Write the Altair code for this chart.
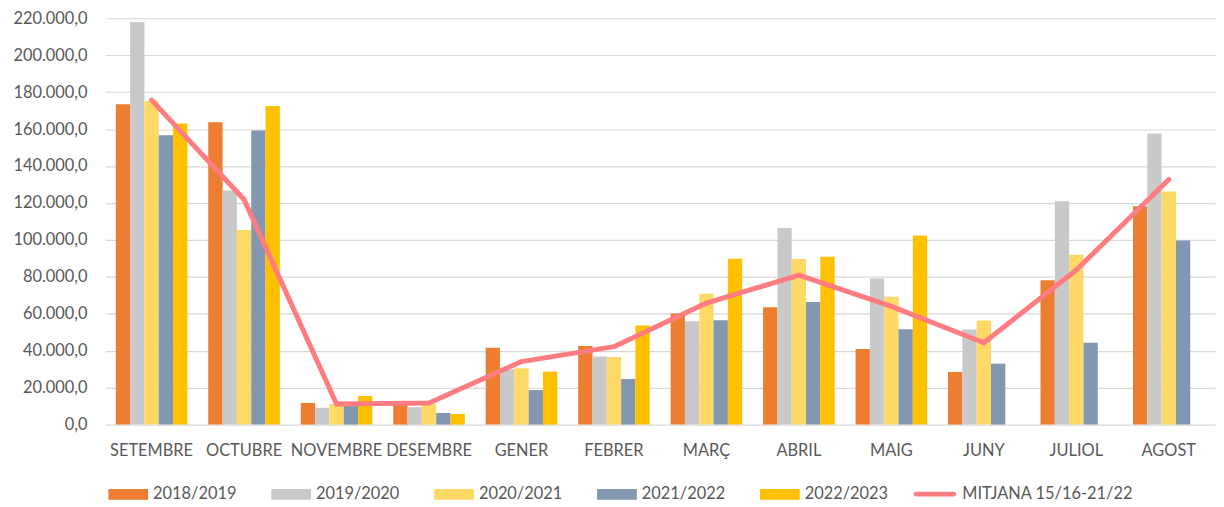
import altair as alt
import pandas as pd

months = ["SETEMBRE", "OCTUBRE", "NOVEMBRE", "DESEMBRE", "GENER", "FEBRER",
          "MARÇ", "ABRIL", "MAIG", "JUNY", "JULIOL", "AGOST"]

series_names = ["2018/2019", "2019/2020", "2020/2021", "2021/2022", "2022/2023"]
line_name = "MITJANA 15/16-21/22"

s1819 = [173400, 163700, 11700, 11500, 41600, 42500, 60100, 63500, 40900, 28500, 78200, 118200]
s1920 = [217900, 126800, 9100, 9400, 30000, 36800, 55900, 106500, 79100, 51500, 120900, 157600]
s2021 = [175200, 105300, 11100, 11300, 30500, 36600, 70800, 89700, 69200, 56300, 92000, 126200]
s2122 = [156700, 159200, 10800, 6300, 18700, 24700, 56500, 66400, 51600, 33000, 44300, 99700]
s2223 = [163000, 172500, 15500, 5750, 28700, 53600, 89800, 90900, 102400, None, None, None]
mitjana = [175700, 121900, 11100, 11700, 34100, 42200, 65800, 80900, 64000, 44300, 83700, 132700]

bar_colors = ["#ED7D31", "#C9C9C9", "#FFD966", "#8497B0", "#FFC000"]
line_color = "#FF7C80"
y_ticks = [0, 20000, 40000, 60000, 80000, 100000, 120000, 140000, 160000, 180000, 200000, 220000]

rows = []
for name, vals in zip(series_names, [s1819, s1920, s2021, s2122, s2223]):
    for m, v in zip(months, vals):
        if v is not None:
            rows.append({"mes": m, "serie": name, "valor": v})
bars_df = pd.DataFrame(rows)
line_df = pd.DataFrame({"mes": months, "linia": line_name, "valor": mitjana})

FONT = "Lato"
TXT = "#595959"
FS = 16.5

bar_legend = alt.Legend(
    orient="none", legendX=3, legendY=459, direction="horizontal", title=None,
    symbolType="M-1,-0.265H1V0.265H-1Z", symbolSize=1600, symbolStrokeWidth=0,
    labelFont=FONT, labelFontSize=FS, labelColor=TXT, labelOffset=5, labelLimit=300,
    columnPadding=34, padding=0, symbolOpacity=1,
)
line_legend = alt.Legend(
    orient="none", legendX=815, legendY=459, direction="horizontal", title=None,
    symbolType="M-0.95,-0.125H0.95A0.125,0.125 0 0 1 0.95,0.125H-0.95A0.125,0.125 0 0 1 -0.95,-0.125Z",
    symbolSize=1600, symbolStrokeWidth=0, symbolFillColor=line_color,
    labelFont=FONT, labelFontSize=FS, labelColor=TXT, labelOffset=7.5, labelLimit=300,
    padding=0, symbolOpacity=1,
)

x_axis = alt.Axis(labelAngle=0, labelFont=FONT, labelFontSize=FS, labelColor=TXT,
                  labelPadding=18.6, labelOverlap=False, labelLimit=200,
                  domain=False, ticks=False, grid=False)
y_axis = alt.Axis(values=y_ticks, tickCount=12, labelFont=FONT, labelFontSize=FS, labelColor=TXT,
                  labelPadding=18.5, labelOverlap=False, labelBound=False,
                  domain=False, ticks=False, gridColor="#D9D9D9", gridWidth=1.2,
                  labelExpr="replace(replace(replace(format(datum.value, ',.1f'), ',', '#'), '.', ','), '#', '.')")

x_scale = alt.Scale(paddingInner=0.226, paddingOuter=0.113)
y_scale = alt.Scale(domain=[0, 220000], nice=False)

bars = alt.Chart(bars_df).mark_bar().encode(
    x=alt.X("mes:N", sort=months, title=None, scale=x_scale, axis=x_axis),
    xOffset=alt.XOffset("serie:N", sort=series_names,
                        scale=alt.Scale(domain=series_names, paddingInner=0, paddingOuter=0)),
    y=alt.Y("valor:Q", title=None, scale=y_scale, axis=y_axis),
    color=alt.Color("serie:N", scale=alt.Scale(domain=series_names, range=bar_colors),
                    legend=bar_legend),
)

line = alt.Chart(line_df).mark_line(strokeWidth=5, strokeCap="round", strokeJoin="round").encode(
    x=alt.X("mes:N", sort=months, title=None, scale=x_scale, axis=x_axis),
    y=alt.Y("valor:Q", title=None, scale=y_scale, axis=y_axis),
    stroke=alt.Stroke("linia:N", scale=alt.Scale(domain=[line_name], range=[line_color]),
                      legend=line_legend),
)

chart = alt.layer(bars, line).properties(
    width=1117, height=409,
    autosize=alt.AutoSizeParams(type="none"),
    padding={"left": 98, "top": 8.7, "right": 1, "bottom": 78},
    background="white",
).configure_view(stroke=None)

chart.save("out.html", embed_options={"renderer": "svg", "actions": False})
